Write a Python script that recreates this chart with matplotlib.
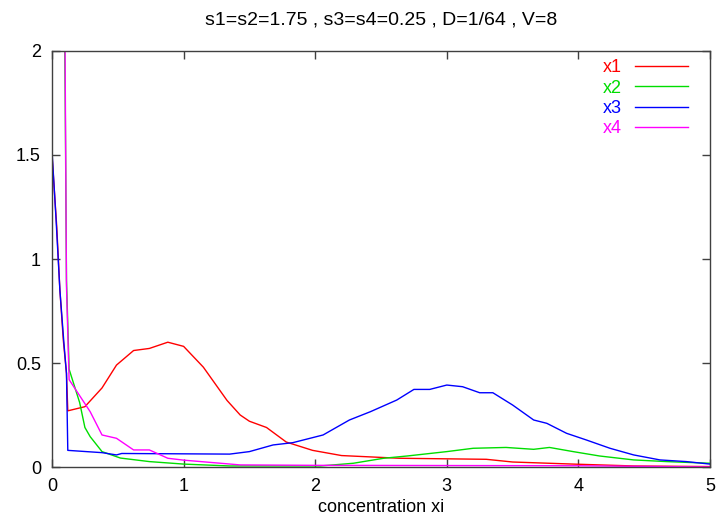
import matplotlib
matplotlib.use("Agg")
import matplotlib.pyplot as plt

plt.rcParams['font.family'] = ['Liberation Sans', 'DejaVu Sans']

# series (x, y)
x1_x = [0.0, 0.036, 0.06, 0.086, 0.11, 0.12, 0.25, 0.38, 0.49, 0.62, 0.74, 0.88, 1.0,
        1.15, 1.33, 1.43, 1.5, 1.63, 1.78, 1.98, 2.2, 2.64, 3.3, 3.5, 3.96, 4.42, 4.8, 5.0]
x1_y = [1.5, 1.155, 0.85, 0.61, 0.45, 0.27, 0.29, 0.38, 0.49, 0.56, 0.57, 0.60, 0.58,
        0.48, 0.32, 0.25, 0.22, 0.19, 0.12, 0.08, 0.055, 0.042, 0.037, 0.024, 0.014, 0.005, 0.003, 0.002]

x2_x = [0.08, 0.1, 0.11, 0.13, 0.21, 0.25, 0.29, 0.38, 0.52, 0.74, 1.0, 1.35, 2.04, 2.29,
        2.52, 2.7, 3.0, 3.2, 3.45, 3.66, 3.78, 3.96, 4.16, 4.42, 4.67, 5.0]
x2_y = [3.0, 1.8, 0.9, 0.47, 0.31, 0.19, 0.146, 0.074, 0.043, 0.026, 0.014, 0.005, 0.005, 0.018,
        0.042, 0.053, 0.074, 0.09, 0.094, 0.085, 0.094, 0.074, 0.053, 0.034, 0.026, 0.018]

x3_x = [0.0, 0.03, 0.06, 0.09, 0.11, 0.12, 0.38, 0.49, 0.53, 1.35, 1.5, 1.68, 1.83, 2.06,
        2.26, 2.42, 2.62, 2.75, 2.87, 3.0, 3.12, 3.25, 3.35, 3.5, 3.66, 3.76, 3.91, 4.06,
        4.24, 4.42, 4.62, 4.82, 5.0]
x3_y = [1.52, 1.2, 0.85, 0.6, 0.45, 0.08, 0.069, 0.058, 0.065, 0.062, 0.074, 0.106, 0.117, 0.154,
        0.226, 0.266, 0.322, 0.373, 0.373, 0.394, 0.386, 0.357, 0.357, 0.298, 0.226, 0.21, 0.162, 0.13,
        0.09, 0.058, 0.034, 0.026, 0.014]

x4_x = [0.09, 0.11, 0.13, 0.29, 0.38, 0.49, 0.62, 0.74, 0.88, 1.0, 1.43, 2.0, 3.0, 4.0, 5.0]
x4_y = [3.0, 0.87, 0.42, 0.266, 0.154, 0.138, 0.082, 0.082, 0.042, 0.033, 0.01, 0.008, 0.007, 0.006, 0.0]

series = [("x1", x1_x, x1_y, "#ff0000"),
          ("x2", x2_x, x2_y, "#00dd00"),
          ("x3", x3_x, x3_y, "#0000ff"),
          ("x4", x4_x, x4_y, "#ff00ff")]

fig = plt.figure(figsize=(7.17, 5.25), dpi=100)
ax = fig.add_axes([52 / 717, 58 / 525, 658 / 717, 416 / 525])

for name, xs, ys, col in series:
    ax.plot(xs, ys, color=col, lw=1.0, label=name)

ax.set_xlim(0, 5)
ax.set_ylim(0, 2)
ax.set_xticks([0, 1, 2, 3, 4, 5])
ax.set_yticks([0, 0.5, 1, 1.5, 2])
ax.set_xticklabels(["0", "1", "2", "3", "4", "5"])
ax.set_yticklabels(["0", "0.5", "1", "1.5", "2"])
ax.tick_params(direction="in", top=True, right=True, length=6, width=1,
               color="#404040", labelsize=13, pad=8)
for sp in ax.spines.values():
    sp.set_color("#404040")
    sp.set_linewidth(1.0)

ax.set_xlabel("concentration xi", fontsize=13, labelpad=3)
ax.set_title("s1=s2=1.75 , s3=s4=0.25 , D=1/64 , V=8", fontsize=14, pad=19)

leg = ax.legend(loc="upper right", bbox_to_anchor=(0.972, 0.9885),
                markerfirst=False, labelcolor="linecolor",
                frameon=False, fontsize=13, handlelength=2.94, handletextpad=0.72,
                labelspacing=0.18, borderaxespad=0.0, borderpad=0.2)
for t in leg.get_texts():
    t.set_ha("right")

fig.savefig("out.png", dpi=100)
